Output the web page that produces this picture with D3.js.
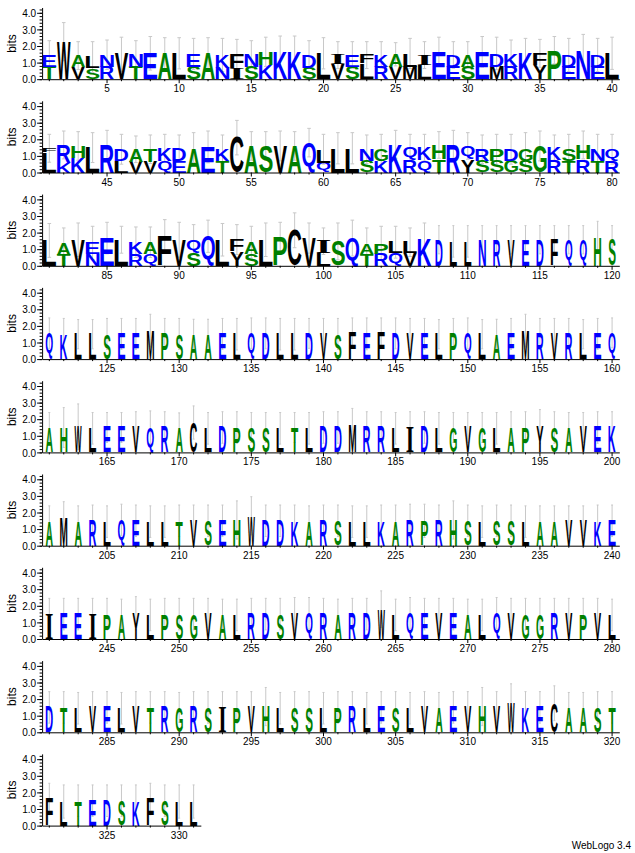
<!DOCTYPE html>
<html>
<head>
<meta charset="utf-8">
<script src="https://cdn.jsdelivr.net/npm/d3@7"></script>
<style>
  body { margin: 0; background: #ffffff; }
</style>
</head>
<body>
<script>
// residues per column, listed from the top of the stack downwards
const residues = [
  // 1-40
  "ET","W","AV","LS","NR","V","NT","E","A","L",
  "ES","A","KN","FI","NS","HK","K","K","DS","L",
  "IV","ES","FL","KR","AV","LM","IL","E","DE","AS",
  "E","DM","KR","K","FY","P","DE","N","DE","L",
  // 41-80
  "FL","RK","HK","L","R","DL","AV","TV","KQ","DE",
  "A","E","KT","C","A","S","V","A","Q","LQ",
  "L","L","NS","GK","K","QR","KQ","HT","R","QY",
  "RS","PS","DG","GS","G","KR","ST","HR","NT","QR",
  // 81-120
  "L","AT","V","EN","E","L","KR","AQ","F","V",
  "QS","Q","L","FY","AS","L","P","C","V","IL",
  "S","Q","AT","PR","LQ","LV","K","D","L","L",
  "N","R","V","E","D","F","Q","Q","H","S",
  // 121-331
  ..."QKLLSEEMPSAAELQDLLDVSFEFDVELPQLAEMRVRLEQ",
  ..."AHWLEEVQRACLDPSSLTLDDMRRLIDLGVGLAPYSAVEK",
  ..."AMARLQELLTVSEHWDDKARSLLKARPRHSLSSLAAVVKE",
  ..."IEEIPAYLPSGVALRDSVQRARDWLQEVEALQVGGRVPVL",
  ..."DTLVELVTRGRSIPVHLSSLPRLESLVAEVHVWKECAAST",
  ..."FLTEDSKFSLL"
];

// letter heights in bits, same order as residues
const bits = [
  [.71,.75],[2.26],[.71,.71],[.68,.65],[.72,.75],[1.5],[.75,.75],[1.56],[1.56],[1.56],
  [.77,.75],[1.56],[.77,.69],[.85,.65],[.75,.75],[.8,.85],[1.65],[1.65],[.8,.69],[1.56],
  [.55,.9],[.71,.75],[.5,.95],[.71,.75],[.75,.75],[.8,.75],[.6,.85],[1.65],[.71,.75],[.71,.75],
  [1.65],[.8,.75],[.8,.75],[1.56],[.71,.85],[1.75],[.71,.75],[1.75],[.71,.75],[1.56],

  [.25,1.21],[1.06,.6],[.7,.9],[1.5],[1.66],[.7,.7],[.74,.66],[.74,.66],[.76,.7],[.76,.7],
  [1.5],[1.54],[.7,.7],[2.1],[1.6],[1.6],[1.6],[1.6],[1.8],[.8,.6],
  [1.46],[1.46],[.7,.7],[.7,.7],[1.7],[.76,.74],[.76,.74],[.86,.8],[1.7],[.8,.8],
  [.7,.7],[.7,.7],[.7,.7],[.7,.7],[1.6],[.76,.74],[.7,.7],[.86,.8],[.7,.7],[.7,.7],

  1.53,[.7,.67],1.57,[.65,.73],1.67,1.57,[.71,.71],[.71,.71],1.78,1.57,
  [.77,.81],1.78,1.57,[.71,.87],[.69,.73],1.57,1.74,2.14,1.67,[.71,.77],
  1.47,1.67,[.65,.73],[.65,.73],[.65,.77],[.65,.77],1.67,1.57,1.47,1.47,
  1.57,1.57,1.57,1.57,1.57,1.53,1.57,1.57,1.74,1.57,

  1.55,1.5,1.5,1.5,1.52,1.52,1.52,1.72,1.52,1.52,
  1.48,1.48,1.52,1.5,1.55,1.55,1.5,1.5,1.55,1.52,
  1.52,1.6,1.52,1.6,1.55,1.52,1.52,1.5,1.52,1.55,
  1.5,1.48,1.52,1.72,1.52,1.52,1.52,1.5,1.52,1.58,

  1.5,1.5,1.55,1.45,1.5,1.5,1.5,1.52,1.5,1.5,
  1.8,1.45,1.5,1.5,1.5,1.5,1.45,1.5,1.45,1.5,
  1.5,1.6,1.5,1.5,1.45,1.5,1.5,1.45,1.5,1.5,
  1.5,1.45,1.5,1.5,1.55,1.5,1.5,1.5,1.5,1.55,

  1.5,1.7,1.5,1.5,1.45,1.55,1.5,1.45,1.45,1.5,
  1.5,1.5,1.5,1.55,1.8,1.5,1.5,1.5,1.5,1.5,
  1.5,1.45,1.45,1.5,1.5,1.5,1.5,1.5,1.55,1.5,
  1.45,1.5,1.5,1.45,1.5,1.5,1.5,1.5,1.5,1.5,

  1.5,1.5,1.5,1.5,1.5,1.5,1.55,1.45,1.5,1.5,
  1.5,1.5,1.5,1.45,1.5,1.5,1.5,1.5,1.55,1.5,
  1.5,1.5,1.5,1.8,1.45,1.55,1.5,1.5,1.5,1.5,
  1.45,1.55,1.5,1.5,1.5,1.5,1.5,1.5,1.5,1.45,

  1.5,1.5,1.45,1.5,1.5,1.45,1.5,1.5,1.5,1.5,
  1.5,1.5,1.5,1.5,1.5,1.55,1.45,1.5,1.5,1.45,
  1.5,1.5,1.45,1.5,1.5,1.45,1.5,1.5,1.5,1.5,
  1.55,1.5,1.8,1.5,1.5,1.75,1.5,1.5,1.5,1.5,

  1.6,1.45,1.5,1.5,1.5,1.5,1.5,1.6,1.5,1.45,1.45
];

// upper end of each error bar, in bits
const errorTop = [
  2.32,3.41,2.26,2.26,2.36,2.53,2.32,2.57,2.5,2.5,
  2.46,2.5,2.46,2.4,2.32,2.53,2.6,2.6,2.32,2.5,
  2.26,2.26,2.26,2.26,2.2,2.46,2.26,2.53,2.26,2.26,
  2.57,2.53,2.36,2.46,2.4,2.57,2.46,2.7,2.46,2.53,

  2.3,2.5,2.46,2.4,2.54,2.3,2.2,2.26,2.3,2.26,
  2.4,2.5,2.26,3.14,2.46,2.46,2.5,2.46,2.66,2.3,
  2.4,2.4,2.26,2.3,2.54,2.3,2.3,2.46,2.54,2.4,
  2.26,2.3,2.3,2.4,2.5,2.26,2.3,2.5,2.3,2.3,

  2.55,2.28,2.58,2.38,2.62,2.38,2.34,2.34,2.78,2.62,
  2.48,2.75,2.55,2.48,2.38,2.58,2.62,3.19,2.58,2.28,
  2.58,2.75,2.28,2.38,2.38,2.28,2.58,2.42,2.42,2.42,
  2.42,2.42,2.42,2.42,2.42,2.42,2.42,2.42,2.68,2.42,

  2.48,2.45,2.38,2.38,2.45,2.45,2.45,2.7,2.45,2.45,
  2.4,2.4,2.45,2.45,2.48,2.48,2.45,2.45,2.45,2.45,
  2.45,2.48,2.48,2.48,2.48,2.45,2.45,2.38,2.45,2.48,
  2.38,2.4,2.45,2.7,2.45,2.45,2.45,2.38,2.45,2.48,

  2.4,2.7,2.92,2.4,2.4,2.4,2.45,2.5,2.45,2.38,
  2.8,2.4,2.45,2.45,2.4,2.4,2.4,2.4,2.4,2.45,
  2.45,2.65,2.45,2.45,2.4,2.45,2.45,2.4,2.4,2.4,
  2.4,2.4,2.45,2.45,2.58,2.45,2.4,2.4,2.45,2.45,

  2.4,2.65,2.4,2.45,2.4,2.5,2.45,2.4,2.4,2.45,
  2.45,2.45,2.45,2.7,2.95,2.45,2.45,2.45,2.4,2.45,
  2.45,2.4,2.4,2.45,2.45,2.5,2.5,2.45,2.7,2.45,
  2.4,2.45,2.45,2.4,2.4,2.4,2.4,2.4,2.45,2.45,

  2.45,2.45,2.45,2.45,2.45,2.4,2.55,2.4,2.45,2.45,
  2.45,2.45,2.4,2.4,2.45,2.45,2.45,2.5,2.5,2.45,
  2.4,2.45,2.45,2.9,2.4,2.5,2.45,2.45,2.45,2.4,
  2.4,2.5,2.45,2.45,2.45,2.45,2.45,2.45,2.45,2.4,

  2.45,2.45,2.4,2.45,2.45,2.4,2.45,2.45,2.45,2.4,
  2.45,2.45,2.45,2.45,2.45,2.7,2.4,2.45,2.45,2.4,
  2.45,2.45,2.4,2.45,2.45,2.4,2.45,2.4,2.45,2.45,
  2.7,2.45,2.92,2.45,2.45,2.8,2.4,2.4,2.45,2.45,

  2.55,2.45,2.45,2.45,2.45,2.45,2.45,2.55,2.45,2.45,2.45
];

// fraction of non-gap symbols per column (drives stack width)
const coverage = [
  1,1,1,1,1,1,1,1,1,1, 1,1,1,1,1,1,1,1,1,1, 1,1,1,1,1,1,1,1,1,1, 1,1,1,1,1,1,1,1,1,1,
  1,1,1,1,1,1,1,1,1,1, 1,1,1,1,1,1,1,1,1,1, 1,1,1,1,1,1,1,1,1,1, 1,1,1,1,1,1,1,1,1,1,
  1,1,1,1,1,1,1,1,1,1, 1,1,1,1,1,1,1,1,1,1, 1,1,1,1,1,1,1,.55,.55,.55, .55,.55,.55,.55,.55,.55,.55,.55,.55,.55,
  .55,.55,.55,.55,.55,.55,.55,.55,.55,.55, .55,.55,.55,.55,.55,.55,.55,.55,.55,.55, .55,.55,.55,.55,.55,.55,.55,.55,.55,.55, .55,.55,.55,.55,.55,.55,.55,.55,.55,.55,
  .55,.55,.55,.55,.55,.55,.55,.55,.55,.55, .55,.55,.55,.55,.55,.55,.55,.55,.55,.55, .55,.55,.55,.55,.55,.55,.55,.55,.55,.55, .55,.55,.55,.55,.55,.55,.55,.55,.55,.55,
  .55,.55,.55,.55,.55,.55,.55,.55,.55,.55, .55,.55,.55,.55,.55,.55,.55,.55,.55,.55, .55,.55,.55,.55,.55,.55,.55,.55,.55,.55, .55,.55,.55,.55,.55,.55,.55,.55,.55,.55,
  .55,.55,.55,.55,.55,.55,.55,.55,.55,.55, .55,.55,.55,.55,.55,.55,.55,.55,.55,.55, .55,.55,.55,.55,.55,.55,.55,.55,.55,.55, .55,.55,.55,.55,.55,.55,.55,.55,.55,.55,
  .55,.55,.55,.55,.55,.55,.55,.55,.55,.55, .55,.55,.55,.55,.55,.55,.55,.55,.55,.55, .55,.55,.55,.55,.55,.55,.55,.55,.55,.55, .55,.55,.55,.55,.55,.55,.55,.55,.55,.55,
  .55,.55,.55,.55,.55,.55,.55,.55,.55,.55,.55
];

const yTicks = [0, 1, 2, 3, 4];

// hydrophobicity colouring
const colorOf = c =>
  "RKDENQ".includes(c) ? "#0000ff" :
  "SGHTAP".includes(c) ? "#008000" : "#000000";

const width = 635, height = 853;
const perRow = 40;
const colW = 14.43;
const left = 42.1;
const firstBase = 79.2, rowStep = 93.3;
const bitPx = 16.6;
const yMax = 4.32;
const axisFont = "'Liberation Sans', Arial, sans-serif";

const svg = d3.select('body').append('svg')
    .attr('width', width)
    .attr('height', height);

svg.append('rect')
    .attr('width', width)
    .attr('height', height)
    .attr('fill', '#ffffff');

// ink bounds of each glyph, so letters can be stretched to fill their box
const ctx = document.createElement('canvas').getContext('2d');
const glyphFamily = c => c === 'I' ? "'Liberation Serif'" : "'Liberation Sans'";
const inkCache = {};
function ink(c) {
  if (!inkCache[c]) {
    ctx.font = `bold 100px ${glyphFamily(c)}`;
    const m = ctx.measureText(c);
    inkCache[c] = {
      l: m.actualBoundingBoxLeft, r: m.actualBoundingBoxRight,
      a: m.actualBoundingBoxAscent, d: m.actualBoundingBoxDescent
    };
  }
  return inkCache[c];
}

const n = residues.length;
const rowCount = Math.ceil(n / perRow);

d3.range(rowCount).forEach(r => {
  const start = r * perRow;
  const count = Math.min(perRow, n - start);
  const positions = d3.range(start + 1, start + count + 1);

  const g = svg.append('g')
      .attr('transform', `translate(0,${firstBase + r * rowStep})`);

  const x = d3.scaleBand()
      .domain(positions)
      .range([left, left + count * colW]);
  const y = d3.scaleLinear()
      .domain([0, yMax])
      .range([0, -yMax * bitPx]);

  // error bars (behind the letters)
  const eb = g.append('g')
      .attr('stroke', '#c8c8c8')
      .attr('stroke-width', 1)
      .attr('fill', 'none');
  positions.forEach(p => {
    const i = p - 1;
    const total = d3.sum([].concat(bits[i]));
    const top = errorTop[i];
    const low = Math.max(0, 2 * total - top);
    const cx = x(p) + x.bandwidth() / 2;
    const cap = 3.6 * coverage[i];
    eb.append('line').attr('x1', cx).attr('x2', cx).attr('y1', y(low)).attr('y2', y(top));
    eb.append('line').attr('x1', cx - cap / 2).attr('x2', cx + cap / 2).attr('y1', y(top)).attr('y2', y(top));
    eb.append('line').attr('x1', cx - cap / 2).attr('x2', cx + cap / 2).attr('y1', y(low)).attr('y2', y(low));
  });

  // letter stacks
  positions.forEach(p => {
    const i = p - 1;
    const letters = residues[i].split('');
    const hs = [].concat(bits[i]);
    const w = colW * coverage[i] - 0.8;
    const x0 = x(p) + (x.bandwidth() - w) / 2;
    let acc = 0;
    for (let k = letters.length - 1; k >= 0; k--) {
      const c = letters[k];
      const b = ink(c);
      const yTop = y(acc + hs[k]);
      const boxH = y(acc) - yTop;
      const sx = w / (b.l + b.r);
      const sy = boxH / (b.a + b.d);
      g.append('text')
          .text(c)
          .attr('transform', `translate(${x0 + b.l * sx},${yTop + b.a * sy}) scale(${sx},${sy})`)
          .style('font-family', glyphFamily(c))
          .style('font-weight', 'bold')
          .style('font-size', '100px')
          .style('fill', colorOf(c));
      acc += hs[k];
    }
  });

  // y axis: minor then major ticks
  g.append('g')
      .attr('transform', `translate(${left},0)`)
      .call(d3.axisLeft(y).tickValues(d3.range(0, 4.31, 0.2)).tickSize(2.5).tickSizeOuter(0).tickFormat(''))
      .call(a => a.select('.domain').remove());
  g.append('g')
      .attr('transform', `translate(${left},0)`)
      .call(d3.axisLeft(y).tickValues(yTicks).tickSize(5).tickSizeOuter(0).tickFormat(d3.format('.1f')))
      .call(a => a.selectAll('text').style('font-family', axisFont).style('font-size', '10px').attr('x', -6).attr('dy', '0.36em'));

  // x axis: a tick under every column, labels every 5
  g.append('g')
      .call(d3.axisBottom(x).tickValues(positions).tickSize(2).tickSizeOuter(0)
        .tickFormat(d => d % 5 === 0 ? d : ''))
      .call(a => a.selectAll('.tick line').attr('y2', d => d % 5 === 0 ? 4 : 2))
      .call(a => a.selectAll('text').style('font-family', axisFont).style('font-size', '10px').attr('y', 6));

  g.selectAll('.domain, .tick line').attr('stroke', '#000000');

  g.append('text')
      .text('bits')
      .attr('transform', `translate(16,${y(2.15)}) rotate(-90)`)
      .attr('text-anchor', 'middle')
      .style('font-family', axisFont)
      .style('font-size', '12px')
      .style('fill', '#000000');
});

svg.append('text')
    .text('WebLogo 3.4')
    .attr('x', 631)
    .attr('y', 849)
    .attr('text-anchor', 'end')
    .style('font-family', axisFont)
    .style('font-size', '10px')
    .style('fill', '#000000');
</script>
</body>
</html>
